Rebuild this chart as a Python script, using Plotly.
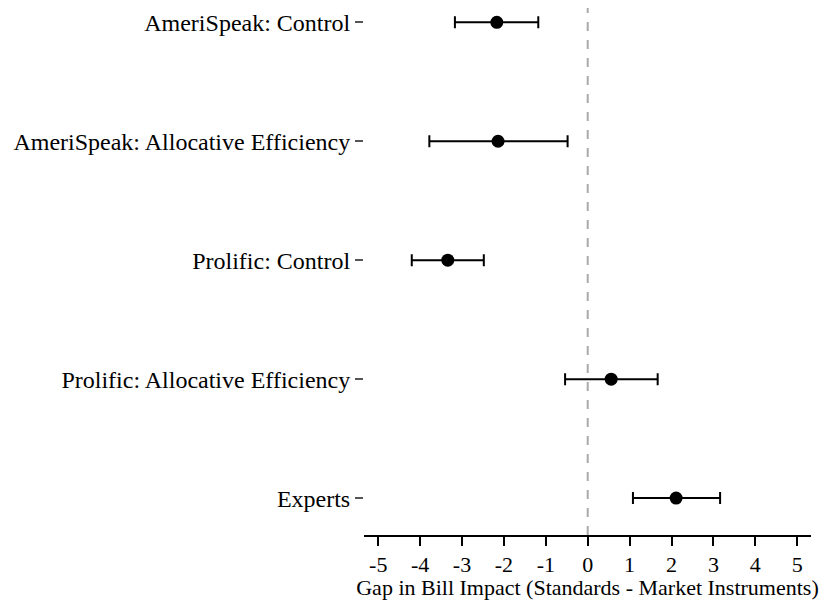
import plotly.graph_objects as go

# Gap estimates with 95% confidence bounds, listed top to bottom
groups = [
    "AmeriSpeak: Control",
    "AmeriSpeak: Allocative Efficiency",
    "Prolific: Control",
    "Prolific: Allocative Efficiency",
    "Experts",
]
estimates = [-2.17, -2.14, -3.34, 0.56, 2.11]
ci_low = [-3.17, -3.78, -4.20, -0.54, 1.08]
ci_high = [-1.18, -0.48, -2.48, 1.67, 3.16]

x_ticks = [-5, -4, -3, -2, -1, 0, 1, 2, 3, 4, 5]

# Row positions: first group at the top
ypos = list(range(len(groups), 0, -1))

err_plus = [h - e for h, e in zip(ci_high, estimates)]
err_minus = [e - l for e, l in zip(estimates, ci_low)]

font_family = "Liberation Serif, Times New Roman, serif"

fig = go.Figure()
fig.add_trace(go.Scatter(
    x=estimates,
    y=ypos,
    mode="markers",
    marker=dict(color="black", size=13),
    error_x=dict(
        type="data",
        symmetric=False,
        array=err_plus,
        arrayminus=err_minus,
        color="black",
        thickness=2,
        width=6,
    ),
    showlegend=False,
))

fig.add_shape(
    type="line",
    xref="x", yref="paper",
    x0=0, x1=0, y0=0, y1=1,
    line=dict(color="#aaaaaa", width=2, dash="dash"),
    layer="below",
)

fig.update_layout(
    width=822,
    height=600,
    paper_bgcolor="white",
    plot_bgcolor="white",
    margin=dict(l=364, r=11, t=8, b=65),
    font=dict(family=font_family, size=22, color="black"),
    xaxis=dict(
        range=[-5.34, 5.33],
        tickvals=x_ticks,
        ticktext=[str(v) for v in x_ticks],
        ticks="outside",
        ticklen=9,
        tickwidth=1.5,
        tickcolor="black",
        showline=True,
        linecolor="black",
        linewidth=1.5,
        showgrid=False,
        zeroline=False,
        tickfont=dict(size=22),
        title=dict(
            text="Gap in Bill Impact (Standards - Market Instruments)",
            font=dict(size=22),
            standoff=0,
        ),
    ),
    yaxis=dict(
        range=[0.69, 5.12],
        tickvals=ypos,
        ticktext=groups,
        ticks="outside",
        ticklen=8,
        tickwidth=1.5,
        tickcolor="#555555",
        showline=False,
        showgrid=False,
        zeroline=False,
        tickfont=dict(size=24),
    ),
)

fig.write_html("out.html")
